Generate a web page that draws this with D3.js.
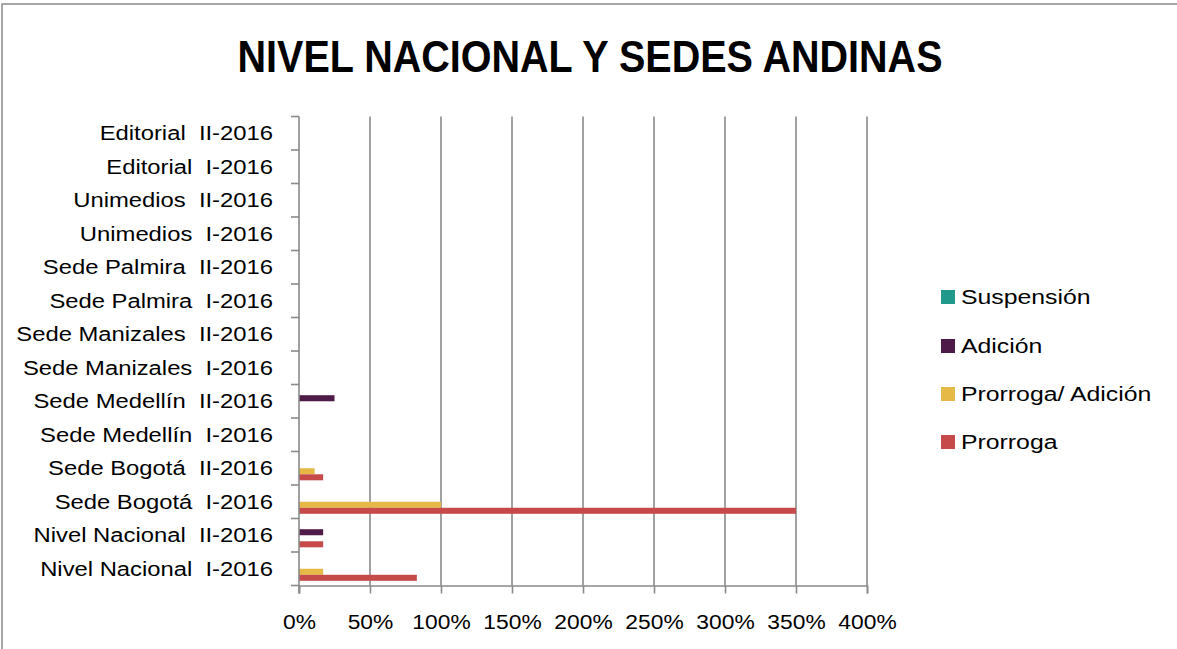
<!doctype html>
<html>
<head>
<meta charset="UTF-8">
<title>Nivel Nacional y Sedes Andinas</title>
<script src="https://d3js.org/d3.v7.min.js"></script>
<style>
    body { margin: 0; background: #fff; }
    text { font-family: "Liberation Sans", Arial, sans-serif; fill: #000; white-space: pre; }
</style>
</head>
<body>
<svg id="chart" width="1177" height="649"></svg>
<script>
// categories, top to bottom as drawn
var categorias = ["Editorial  II-2016", "Editorial  I-2016", "Unimedios  II-2016", "Unimedios  I-2016",
    "Sede Palmira  II-2016", "Sede Palmira  I-2016", "Sede Manizales  II-2016", "Sede Manizales  I-2016",
    "Sede Medellín  II-2016", "Sede Medellín  I-2016", "Sede Bogotá  II-2016", "Sede Bogotá  I-2016",
    "Nivel Nacional  II-2016", "Nivel Nacional  I-2016"];

var series = ["Suspensión", "Adición", "Prorroga/ Adición", "Prorroga"];
var colores = ["#20988a", "#4e1a48", "#e6b947", "#c64a4a"];

var suspension      = [0, 0, 0, 0, 0, 0, 0, 0, 0,    0, 0,    0,   0,    0];
var adicion         = [0, 0, 0, 0, 0, 0, 0, 0, 0.25, 0, 0,    0,   0.17, 0];
var prorrogaAdicion = [0, 0, 0, 0, 0, 0, 0, 0, 0,    0, 0.11, 1.0, 0,    0.17];
var prorroga        = [0, 0, 0, 0, 0, 0, 0, 0, 0,    0, 0.17, 3.5, 0.17, 0.83];

var xTicks = [0, 0.5, 1, 1.5, 2, 2.5, 3, 3.5, 4];

var valores = [suspension, adicion, prorrogaAdicion, prorroga];

var svg = d3.select("#chart");

// Calibri-like width: stretch Liberation glyphs a bit
function ensanchar(sel, k){
    sel.each(function(){
        var l = this.getComputedTextLength();
        d3.select(this).attr("textLength", l * k).attr("lengthAdjust", "spacingAndGlyphs");
    });
}

// outer frame
svg.append("rect")
   .attr("x", 2).attr("y", 4).attr("width", 1200).attr("height", 700)
   .attr("fill", "none").attr("stroke", "#8a8a8a").attr("stroke-width", 1.5);

// title
svg.append("text")
   .attr("x", 590).attr("y", 72)
   .attr("text-anchor", "middle")
   .attr("font-size", 44).attr("font-weight", "bold")
   .attr("textLength", 705).attr("lengthAdjust", "spacingAndGlyphs")
   .text("NIVEL NACIONAL Y SEDES ANDINAS");

var pLeft = 299, pRight = 867, pTop = 116.5, pBottom = 585.5;

var x = d3.scaleLinear().domain([0, 4]).range([pLeft, pRight]);
var y = d3.scaleBand().domain(categorias).range([pTop, pBottom])
          .paddingInner(0.28).paddingOuter(0.14);
var ySub = d3.scaleBand().domain(series).range([0, y.bandwidth()]);

var grid = "#8a8a8a";

// vertical gridlines
svg.append("g").selectAll("line")
   .data(xTicks.slice(1))
   .enter().append("line")
   .attr("x1", function(d){ return x(d); })
   .attr("x2", function(d){ return x(d); })
   .attr("y1", pTop).attr("y2", pBottom)
   .attr("stroke", grid).attr("stroke-width", 1.6);

// bars
var grupos = svg.append("g").selectAll("g")
   .data(series)
   .enter().append("g")
   .attr("fill", function(d, i){ return colores[i]; });

grupos.selectAll("rect")
   .data(function(d, i){
        return valores[i].map(function(v, j){ return {s: d, cat: categorias[j], v: v}; })
                         .filter(function(o){ return o.v > 0; });
   })
   .enter().append("rect")
   .attr("x", x(0))
   .attr("y", function(d){ return y(d.cat) + ySub(d.s); })
   .attr("width", function(d){ return x(d.v) - x(0); })
   .attr("height", ySub.bandwidth());

// y axis line + ticks at category boundaries
var yAxis = svg.append("g");
yAxis.append("line")
   .attr("x1", pLeft).attr("x2", pLeft).attr("y1", pTop).attr("y2", pBottom + 8)
   .attr("stroke", grid).attr("stroke-width", 1.6);
yAxis.selectAll("line.tk")
   .data(d3.range(categorias.length + 1))
   .enter().append("line").attr("class", "tk")
   .attr("x1", pLeft - 8).attr("x2", pLeft)
   .attr("y1", function(i){ return pTop + i * y.step(); })
   .attr("y2", function(i){ return pTop + i * y.step(); })
   .attr("stroke", grid).attr("stroke-width", 1.6);

yAxis.selectAll("text")
   .data(categorias)
   .enter().append("text")
   .attr("x", 273)
   .attr("y", function(d){ return y(d) + y.bandwidth() / 2; })
   .attr("dy", "0.36em")
   .attr("text-anchor", "end")
   .attr("font-size", 20)
   .text(function(d){ return d; })
   .call(ensanchar, 1.19);

// x axis
var xAxis = d3.axisBottom(x)
   .tickValues(xTicks)
   .tickSize(8)
   .tickPadding(21)
   .tickFormat(d3.format(".0%"));

var gx = svg.append("g")
   .attr("transform", "translate(0," + pBottom + ")")
   .call(xAxis);
gx.select(".domain").attr("stroke", grid).attr("stroke-width", 1.6);
gx.selectAll(".tick line").attr("stroke", grid).attr("stroke-width", 1.6);
gx.selectAll(".tick text")
   .attr("font-size", 20)
   .attr("font-family", "Liberation Sans, Arial, sans-serif")
   .attr("fill", "#000")
   .call(ensanchar, 1.14);

// legend
var legendY = [297, 346, 394, 442];
var legend = svg.append("g").selectAll("g")
   .data(series)
   .enter().append("g")
   .attr("transform", function(d, i){ return "translate(941," + legendY[i] + ")"; });

legend.append("rect")
   .attr("x", 0).attr("y", -7).attr("width", 14).attr("height", 14)
   .attr("fill", function(d, i){ return colores[i]; });

legend.append("text")
   .attr("x", 20).attr("y", 0).attr("dy", "0.36em")
   .attr("font-size", 20)
   .text(function(d){ return d; })
   .call(ensanchar, 1.24);
</script>
</body>
</html>
